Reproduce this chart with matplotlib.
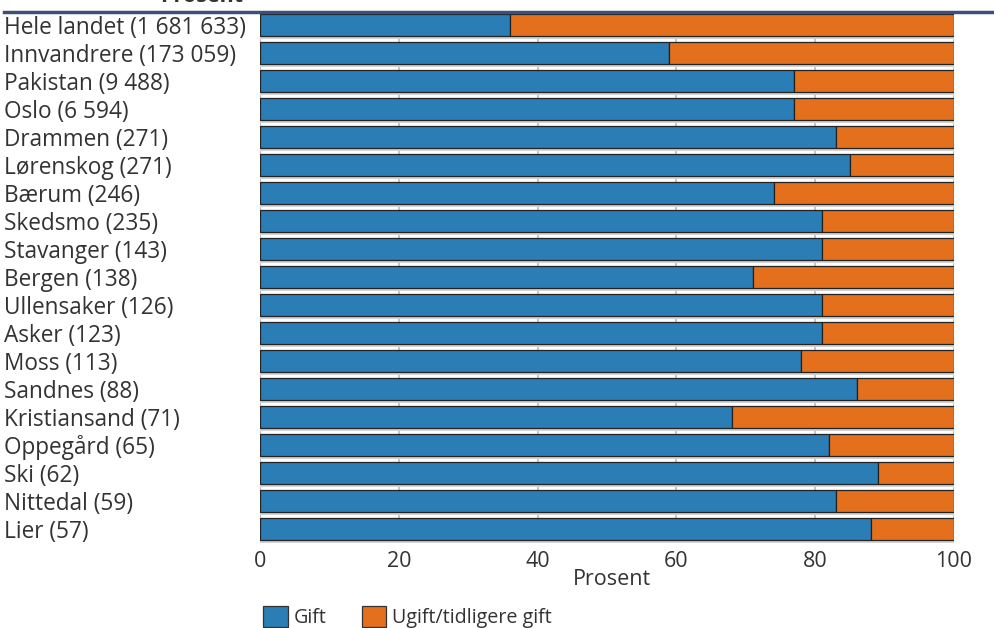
import matplotlib
matplotlib.use("Agg")
import matplotlib.pyplot as plt
from matplotlib.patches import Patch
from matplotlib.lines import Line2D

categories = ["Hele landet (1 681 633)", "Innvandrere (173 059)", "Pakistan (9 488)",
              "Oslo (6 594)", "Drammen (271)", "Lørenskog (271)", "Bærum (246)",
              "Skedsmo (235)", "Stavanger (143)", "Bergen (138)", "Ullensaker (126)",
              "Asker (123)", "Moss (113)", "Sandnes (88)", "Kristiansand (71)",
              "Oppegård (65)", "Ski (62)", "Nittedal (59)", "Lier (57)"]
gift = [36, 59, 77, 77, 83, 85, 74, 81, 81, 71, 81, 81, 78, 86, 68, 82, 89, 83, 88]
ugift = [100 - g for g in gift]
series_names = ["Gift", "Ugift/tidligere gift"]
xticks = [0, 20, 40, 60, 80, 100]

plt.rcParams['font.family'] = ['Open Sans', 'DejaVu Sans']
BLUE = "#2a7db5"
ORANGE = "#e4701e"
TXT = "#333333"
FS = 15.5

W, H = 994, 628
fig = plt.figure(figsize=(W / 100, H / 100), dpi=100)
ax = fig.add_axes([260 / W, 1 - 543 / H, 694 / W, 532 / H])

y = list(range(len(categories)))
h = 0.8
shadow_y = [v + 0.1 for v in y]
ax.barh(shadow_y, [100.3] * len(y), height=h, color="#d3d3d3", zorder=1, linewidth=0)
ax.barh(y, gift, height=h, color=BLUE, edgecolor="#222222", linewidth=0.9, zorder=3)
ax.barh(y, ugift, left=gift, height=h, color=ORANGE, edgecolor="#222222", linewidth=0.9, zorder=3)

ax.set_xlim(0, 100)
ax.set_ylim(len(categories) - 0.5, -0.5)
ax.set_xticks(xticks)
ax.set_xticklabels([str(t) for t in xticks], fontsize=FS, color=TXT)
ax.set_yticks(y)
ax.set_yticklabels(categories, fontsize=16.3, color=TXT, ha="left")
ax.tick_params(axis="y", length=0, pad=256 * 0.72)
ax.tick_params(axis="x", length=0, pad=6)
for s in ax.spines.values():
    s.set_visible(False)
ax.xaxis.grid(True, color="#bbbbbb", linewidth=1.2, zorder=0)
ax.set_axisbelow(True)
ax.axvline(0, color="#cccccc", linewidth=1.5, zorder=0)
ax.set_xlabel("Prosent", fontsize=FS, color=TXT)
ax.xaxis.set_label_coords((612 - 260) / 694, -0.048)

fig.add_artist(Line2D([4 / W, 1], [1 - 12 / H, 1 - 12 / H], color="#3d5078", linewidth=2.5))
fig.text(160 / W, 1 - 1.5 / H, "Prosent", fontsize=FS, fontweight="bold", color=TXT,
         ha="left", va="baseline")

handles = [Patch(facecolor=BLUE, edgecolor="#333333", linewidth=0.9),
           Patch(facecolor=ORANGE, edgecolor="#333333", linewidth=0.9)]
fig.legend(handles, series_names, loc="upper left", bbox_to_anchor=(255 / W, 1 - 598 / H),
           ncol=2, frameon=False, fontsize=14.2, handlelength=1.25, handleheight=1.25,
           handletextpad=0.3, columnspacing=1.8, labelcolor=TXT, borderaxespad=0)

fig.savefig("out.png", dpi=100)
